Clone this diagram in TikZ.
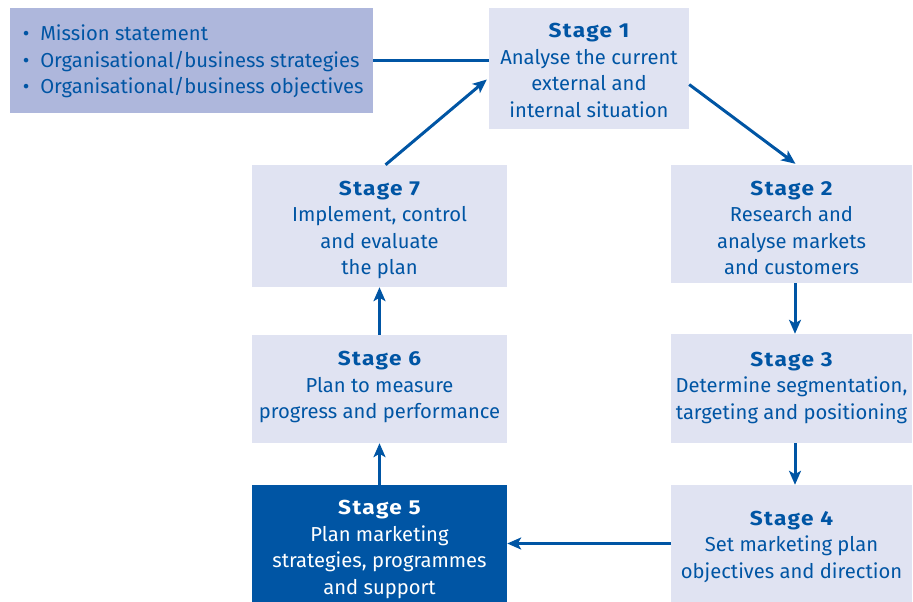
\documentclass[tikz,border=0pt]{standalone}
\usepackage{fontspec}
\setmainfont{Fira Sans}
\newfontfamily\headfont[LetterSpace=7,FakeStretch=1.12]{Fira Sans Bold}
\usetikzlibrary{arrows.meta,calc}
\definecolor{dblue}{HTML}{0055A4}
\definecolor{lbox}{HTML}{E0E3F2}
\definecolor{mbox}{HTML}{AEB7DC}
\newcommand{\bodyfont}{\fontsize{20.2}{26.5}\selectfont}
\newcommand{\hd}[1]{{\headfont #1}}
\tikzset{
  stagebox/.style={fill=lbox,inner sep=0pt},
  darkbox/.style={fill=dblue,inner sep=0pt},
  infobox/.style={fill=mbox,inner sep=0pt},
  stagetext/.style={text=dblue,align=center,inner sep=0pt,font=\bodyfont},
  darktext/.style={text=white,align=center,inner sep=0pt,font=\bodyfont},
  conn/.style={draw=dblue,line width=3pt},
  arr/.style={conn,-{Stealth[length=14pt,width=12pt,inset=3.5pt]}}
}
\begin{document}
\begin{tikzpicture}[x=1pt,y=-1pt]
\useasboundingbox (0,0) rectangle (913,602);
\node[infobox,minimum width=363pt,minimum height=105pt] (info) at (191.5,60.5) {};
\node[stagebox,minimum width=200pt,minimum height=121pt] (s1) at (589,68.5) {};
\node[stagebox,minimum width=241pt,minimum height=118pt] (s2) at (791.5,224) {};
\node[stagebox,minimum width=241pt,minimum height=109pt] (s3) at (791.5,388.5) {};
\node[stagebox,minimum width=241pt,minimum height=117pt] (s4) at (791.5,543.5) {};
\node[darkbox,minimum width=255pt,minimum height=117pt] (s5) at (379.5,543.5) {};
\node[stagebox,minimum width=255pt,minimum height=108pt] (s6) at (379.5,389) {};
\node[stagebox,minimum width=255pt,minimum height=122pt] (s7) at (379.5,226) {};
\node[text=dblue,align=left,anchor=west,inner sep=0pt,font=\bodyfont] (infotext) at ($(info.west)+(13,1)$) {\textbullet\ \ Mission statement\\\textbullet\ \ Organisational/business strategies\\\textbullet\ \ Organisational/business objectives};
\node[stagetext] (t1) at ($(s1)+(0,2)$) {\hd{Stage 1}\\Analyse the current\\external and\\internal situation};
\node[stagetext] (t2) at ($(s2)+(0,4)$) {\hd{Stage 2}\\Research and\\analyse markets\\and customers};
\node[stagetext] (t3) at ($(s3)+(0,-1)$) {\hd{Stage 3}\\Determine segmentation,\\targeting and positioning};
\node[stagetext] (t4) at ($(s4)+(0,3)$) {\hd{Stage 4}\\Set marketing plan\\objectives and direction};
\node[darktext] (t5) at ($(s5)+(0,6)$) {\hd{Stage 5}\\Plan marketing\\strategies, programmes\\and support};
\node[stagetext] (t6) at ($(s6)+(0,-2)$) {\hd{Stage 6}\\Plan to measure\\progress and performance};
\node[stagetext] (t7) at ($(s7)+(0,4)$) {\hd{Stage 7}\\Implement, control\\and evaluate\\the plan};
\draw[conn] (info.east) -- (info.east -| s1.west);
\draw[arr] ($(s7.north)+(6,0)$) -- ($(s1.west)+(-2,11)$);
\draw[arr] ($(s1.east)+(0,16)$) -- ($(s2.north)+(4,-1)$);
\draw[arr] (s2.south -| 795,0) -- (s3.north -| 795,0);
\draw[arr] (s3.south -| 795,0) -- (s4.north -| 795,0);
\draw[arr] (s4.west) -- (s5.east);
\draw[arr] (s5.north) -- (s6.south);
\draw[arr] (s6.north) -- (s7.south);
\end{tikzpicture}
\end{document}
